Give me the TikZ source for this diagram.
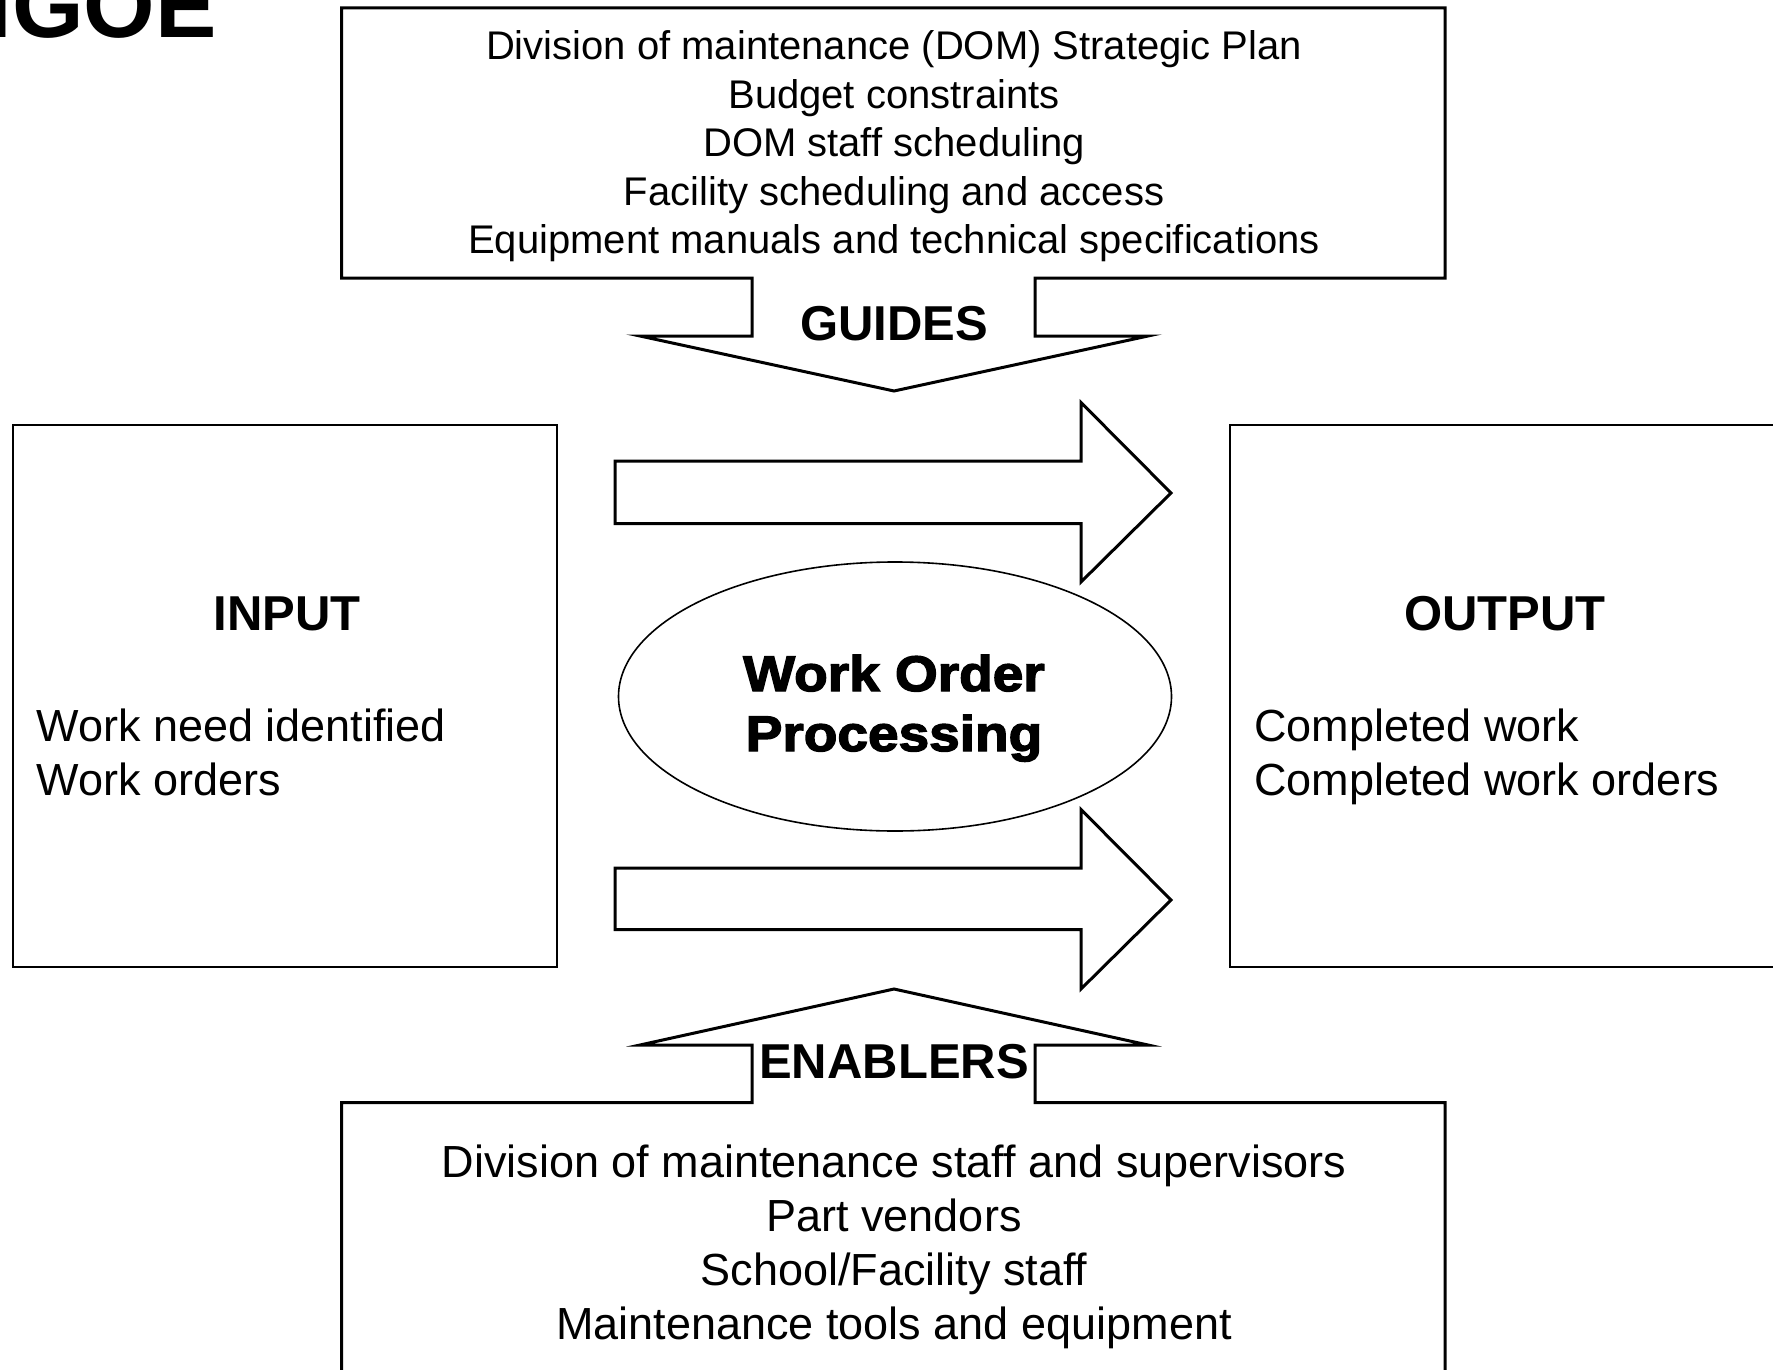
\documentclass[tikz,border=0pt]{standalone}
\usepackage{fontspec}
\setmainfont{Liberation Sans}
\newfontfamily\heavyfont[BoldFeatures={FakeBold=2.8,FakeStretch=1.1}]{Liberation Sans}
\usetikzlibrary{shapes.geometric}

\tikzset{
  heavyline/.style={draw=black, line width=1.5pt, line join=miter},
  thinbox/.style={draw=black, line width=1pt},
  plainline/.style={font=\fontsize{20}{24}\selectfont, inner sep=0pt, anchor=base},
  itemline/.style={font=\fontsize{22.5}{27}\selectfont, inner sep=0pt},
  heading/.style={font=\fontsize{24.5}{29}\selectfont\bfseries, inner sep=0pt, anchor=base},
  coreline/.style={font=\fontsize{25}{30}\selectfont\heavyfont\bfseries, inner sep=0pt, anchor=base},
  flowarrow/.style={draw=black, line width=1.5pt, fill=white, line join=miter}
}

\begin{document}
\begin{tikzpicture}[x=0.5pt, y=-0.5pt]
  \clip (0,0) rectangle (1773,1370);
  \fill[white] (0,0) rectangle (1773,1370);

  % title in the corner
  \node[anchor=base east, inner sep=0pt, font=\fontsize{46}{50}\selectfont\bfseries] (title) at (217,38) {IGOE};

  % guides box with its downward arrow
  \draw[heavyline] (341.5,8) -- (1445,8) -- (1445,278) -- (1035,278) -- (1035,336)
     -- (1148,336) -- (894,391) -- (640,336) -- (752,336) -- (752,278) -- (341.5,278) -- cycle;
  \foreach [count=\i] \t in {Division of maintenance (DOM) Strategic Plan,
                             Budget constraints,
                             DOM staff scheduling,
                             Facility scheduling and access,
                             Equipment manuals and technical specifications}
    \node[plainline] (guide\i) at (894,{60+48.4*(\i-1)}) {\t};
  \node[heading] (guides) at (894,340.5) {GUIDES};

  % input box
  \draw[thinbox] (12.5,425) rectangle (557,967);
  \node[heading] (input) at (287,630.5) {INPUT};
  \node[itemline, anchor=base west] (in1) at (36,741) {Work need identified};
  \node[itemline, anchor=base west] (in2) at (36,795) {Work orders};

  % output box
  \draw[thinbox] (1230,425) -- (1800,425) -- (1800,967) -- (1230,967) -- cycle;
  \node[heading] (output) at (1505,630.5) {OUTPUT};
  \node[itemline, anchor=base west] (out1) at (1254,741) {Completed work};
  \node[itemline, anchor=base west] (out2) at (1254,795) {Completed work orders};

  % block arrows from input to output
  \draw[flowarrow] (615,461) -- (1081,461) -- (1081,402.5) -- (1171,493)
     -- (1081,582) -- (1081,523.5) -- (615,523.5) -- cycle;
  \draw[flowarrow] (615,868) -- (1081,868) -- (1081,809.5) -- (1171,900)
     -- (1081,989) -- (1081,929.5) -- (615,929.5) -- cycle;

  % process in the middle
  \node[draw=black, line width=0.8pt, ellipse, minimum width=276.5pt,
        minimum height=134.5pt, inner sep=0pt] (process) at (895,696.5) {};
  \node[coreline] (proc1) at (894,691) {Work Order};
  \node[coreline] (proc2) at (894,751) {Processing};

  % enablers box with its upward arrow
  \draw[heavyline] (341.5,1400) -- (341.5,1102.5) -- (752,1102.5) -- (752,1045)
     -- (640,1045) -- (894,989) -- (1148,1045) -- (1035,1045) -- (1035,1102.5)
     -- (1445,1102.5) -- (1445,1400);
  \node[heading] (enablers) at (894,1078.5) {ENABLERS};
  \foreach [count=\i] \t in {Division of maintenance staff and supervisors,
                             Part vendors,
                             School/Facility staff,
                             Maintenance tools and equipment}
    \node[itemline, anchor=base] (enab\i) at (894,{1177+54*(\i-1)}) {\t};
\end{tikzpicture}
\end{document}
